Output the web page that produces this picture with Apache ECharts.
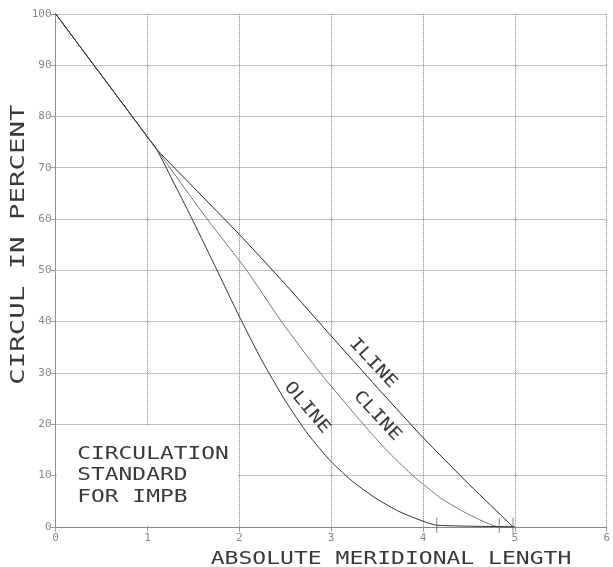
<!DOCTYPE html>
<html>
<head>
<meta charset="utf-8">
<script src="https://cdn.jsdelivr.net/npm/echarts@6/dist/echarts.min.js"></script>
<style>
  html, body { margin: 0; padding: 0; background: #fff; }
  #chart { width: 613px; height: 567px; }
</style>
</head>
<body>
<div id="chart"></div>
<script>
// Circulation curves: absolute meridional length vs. circulation in percent
const xTicks = [0, 1, 2, 3, 4, 5, 6];
const yTicks = [0, 10, 20, 30, 40, 50, 60, 70, 80, 90, 100];

const iline = [[0, 100], [1, 76], [1.1, 73.6], [1.5, 66.2], [2, 57], [2.5, 47.3], [3, 37.2],
  [3.5, 27.2], [4, 17.4], [4.5, 8.3], [4.98, 0]];
const cline = [[0, 100], [1, 76], [1.1, 73.6], [1.22, 70.6], [1.65, 60], [2.08, 50], [2.46, 40],
  [2.88, 30], [3.35, 20], [3.6, 15], [3.87, 10.3], [4.2, 5.5], [4.5, 2.4], [4.83, 0], [5, 0]];
const oline = [[0, 100], [1, 76], [1.1, 73.6], [1.3, 66.6], [1.5, 59.5], [1.75, 50.3], [2, 41],
  [2.25, 32.3], [2.5, 24.6], [2.75, 18], [3, 12.7], [3.25, 8.6], [3.5, 5.4], [3.75, 2.9],
  [4, 1.1], [4.15, 0.3], [5, 0]];

// x where each curve reaches zero (short end marks)
const curveEnds = [4.15, 4.83, 4.98];

// label box area in data units
const noteBox = { x0: 0, x1: 2, y0: 0, y1: 20 };
const noteLines = ['CIRCULATION', 'STANDARD', 'FOR IMPB'];

const FONT = '"DejaVu Sans Mono", monospace';
const gridColor = '#808080';
const GRID = { left: 55.6, right: 3, top: 13.8, bottom: 40.2 };
const W = 613, H = 567;

const chart = echarts.init(document.getElementById('chart'), null, { renderer: 'canvas' });

function curve(name, data, color) {
  return {
    name: name,
    type: 'line',
    data: data,
    showSymbol: false,
    smooth: 0.2,
    clip: false,
    lineStyle: { color: color, width: 1 },
    z: 3
  };
}

const option = {
  backgroundColor: '#fff',
  animation: false,
  grid: { left: GRID.left, right: GRID.right, top: GRID.top, bottom: GRID.bottom },
  xAxis: {
    type: 'value',
    min: xTicks[0], max: xTicks[xTicks.length - 1], interval: 1,
    axisLine: { show: true, lineStyle: { color: gridColor, type: [1, 1], width: 1 } },
    axisTick: { show: true, length: 5, inside: false, lineStyle: { color: '#999' } },
    axisLabel: { color: '#888', fontFamily: FONT, fontSize: 11, margin: 6 },
    splitLine: { show: true, lineStyle: { color: gridColor, type: [1, 1], width: 1 } }
  },
  yAxis: {
    type: 'value',
    min: yTicks[0], max: yTicks[yTicks.length - 1], interval: 10,
    axisLine: { show: true, lineStyle: { color: gridColor, type: [1, 1], width: 1 } },
    axisTick: { show: true, length: 5, lineStyle: { color: '#999' } },
    axisLabel: { color: '#888', fontFamily: FONT, fontSize: 11, margin: 4 },
    splitLine: { show: true, lineStyle: { color: gridColor, type: [1, 1], width: 1 } }
  },
  series: [
    curve('ILINE', iline, '#262626'),
    curve('CLINE', cline, '#777'),
    curve('OLINE', oline, '#333'),
    {
      // short vertical marks where the curves meet the axis
      type: 'scatter',
      data: curveEnds.map(x => [x, 0.3]),
      symbol: 'rect',
      symbolSize: [1, 15],
      itemStyle: { color: '#666' },
      silent: true,
      clip: false,
      z: 4
    },
    {
      type: 'line',
      data: [],
      silent: true,
      markArea: {
        silent: true,
        itemStyle: { color: '#fff', opacity: 1 },
        data: [[{ coord: [noteBox.x0 + 0.015, noteBox.y0 + 0.35] },
                { coord: [noteBox.x1 - 0.015, noteBox.y1 - 0.35] }]]
      },
      z: 1
    }
  ]
};
chart.setOption(option);

// pixel position of a data point inside the plot area
function pt(x, y) {
  const pw = W - GRID.left - GRID.right, ph = H - GRID.top - GRID.bottom;
  const x0 = xTicks[0], x1 = xTicks[xTicks.length - 1];
  const y0 = yTicks[0], y1 = yTicks[yTicks.length - 1];
  return [GRID.left + (x - x0) / (x1 - x0) * pw, GRID.top + (y1 - y) / (y1 - y0) * ph];
}

const textStyle = (size, color) => ({ font: size + 'px ' + FONT, fill: color });
const graphics = [];
const titleColor = '#3a3a3a';

// axis titles
const xc = pt(3.63, 0);
graphics.push({
  type: 'text', x: xc[0], y: 559, scaleX: 1.28, z: 100,
  style: Object.assign({ text: 'ABSOLUTE MERIDIONAL LENGTH', align: 'center', verticalAlign: 'middle' }, textStyle(18, titleColor))
});
const yc = pt(0, 55);
graphics.push({
  type: 'text', x: 19, y: yc[1], rotation: Math.PI / 2, scaleX: 1.44, z: 100,
  style: Object.assign({ text: 'CIRCUL IN PERCENT', align: 'center', verticalAlign: 'middle' }, textStyle(19, titleColor))
});

// note in the lower left
const n0 = pt(0.235, 14.2);
noteLines.forEach((t, i) => {
  graphics.push({
    type: 'text', x: n0[0], y: n0[1] + i * 21.7, scaleX: 1.27, z: 100,
    style: Object.assign({ text: t, align: 'left', verticalAlign: 'middle' }, textStyle(18, titleColor))
  });
});

// curve names, set along each curve (negative rotation runs down to the right)
const curveLabels = [
  { text: 'ILINE', at: [3.435, 31.9], angle: -47 },
  { text: 'CLINE', at: [3.48, 21.6], angle: -47 },
  { text: 'OLINE', at: [2.72, 23.2], angle: -50 }
];
curveLabels.forEach(l => {
  const p = pt(l.at[0], l.at[1]);
  graphics.push({
    type: 'text', x: p[0], y: p[1], rotation: l.angle * Math.PI / 180, scaleX: 1.2, z: 100,
    style: Object.assign({ text: l.text, align: 'center', verticalAlign: 'middle' }, textStyle(17, titleColor))
  });
});

chart.setOption({ graphic: graphics });
</script>
</body>
</html>
